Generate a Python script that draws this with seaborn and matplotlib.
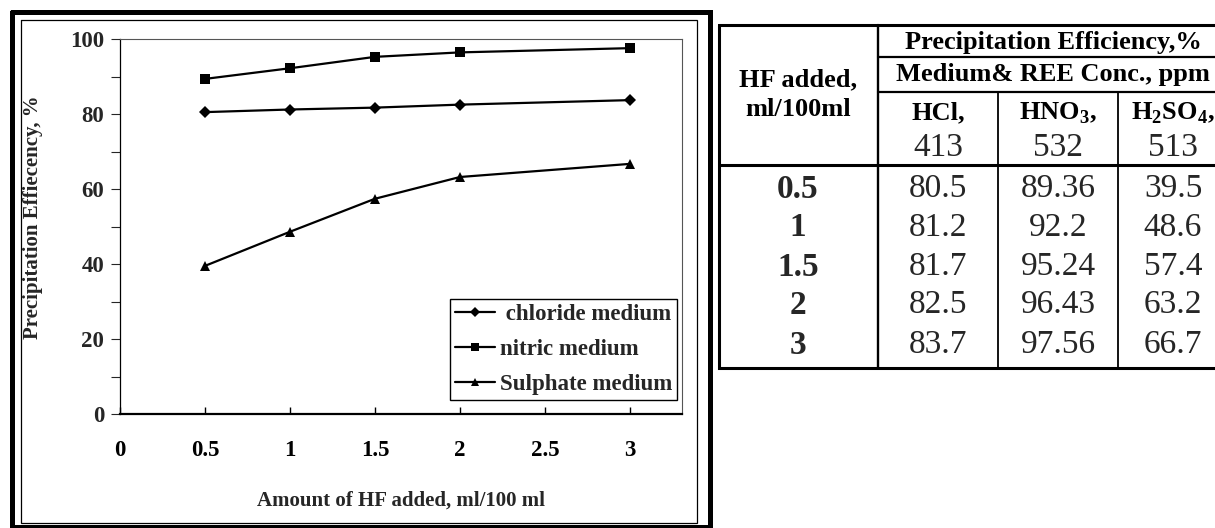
import numpy as np
import pandas as pd
import matplotlib
matplotlib.use("Agg")
import matplotlib.pyplot as plt
import seaborn as sns

# ---------------- data ----------------
hf_added = [0.5, 1, 1.5, 2, 3]
hf_labels = ["0.5", "1", "1.5", "2", "3"]
chloride = [80.5, 81.2, 81.7, 82.5, 83.7]
nitric = [89.36, 92.2, 95.24, 96.43, 97.56]
sulphate = [39.5, 48.6, 57.4, 63.2, 66.7]
series_names = ["chloride medium", "nitric medium", "Sulphate medium"]
legend_labels = [" chloride medium", "nitric medium", "Sulphate medium"]
hcl_txt = ["80.5", "81.2", "81.7", "82.5", "83.7"]
hno3_txt = ["89.36", "92.2", "95.24", "96.43", "97.56"]
h2so4_txt = ["39.5", "48.6", "57.4", "63.2", "66.7"]
col_heads = ["HCl,", r"HNO$_\mathbf{3}$,", r"H$_\mathbf{2}$SO$_\mathbf{4}$,"]
col_conc = ["413", "532", "513"]
x_ticks = [0, 0.5, 1, 1.5, 2, 2.5, 3]
x_tick_labels = ["0", "0.5", "1", "1.5", "2", "2.5", "3"]
y_ticks = [0, 20, 40, 60, 80, 100]

df = pd.DataFrame({
    "x": hf_added * 3,
    "y": chloride + nitric + sulphate,
    "medium": [series_names[0]] * 5 + [series_names[1]] * 5 + [series_names[2]] * 5,
})

sns.set_style("ticks")
plt.rcParams["font.family"] = ["Liberation Serif", "DejaVu Serif"]
plt.rcParams["mathtext.fontset"] = "custom"
plt.rcParams["mathtext.rm"] = "Liberation Serif"
plt.rcParams["mathtext.bf"] = "Liberation Serif:bold"

W, H = 1215, 528
fig = plt.figure(figsize=(W / 100, H / 100), dpi=100)
fig.patch.set_facecolor("white")

# background overlay axes in pixel coordinates (frames + table)
bg = fig.add_axes([0, 0, 1, 1], zorder=0)
bg.set_xlim(0, W)
bg.set_ylim(H, 0)
bg.axis("off")
bg.patch.set_alpha(0)

# chart frame: thick outer, thin inner
bg.plot([12, 709.5, 709.5, 12, 12], [11.5, 11.5, 527, 527, 11.5], color="black", lw=3.6,
        solid_joinstyle="miter", clip_on=False)
bg.plot([21, 697, 697, 21, 21], [19.5, 19.5, 522.5, 522.5, 19.5], color="black", lw=0.9,
        solid_joinstyle="miter", clip_on=False)

# ---------------- chart ----------------
ax = fig.add_axes([120 / W, (H - 414) / H, 562 / W, 375 / H], zorder=1)
markers = {series_names[0]: "D", series_names[1]: "s", series_names[2]: "^"}
sizes_ms = {series_names[0]: 6, series_names[1]: 7, series_names[2]: 7.5}
sns.lineplot(data=df, x="x", y="y", hue="medium", style="medium",
             palette=["black"] * 3, markers=markers, dashes=False,
             linewidth=1.6, markersize=7, markeredgewidth=0, ax=ax, legend=True)
for line, name in zip(ax.lines[:3], series_names):
    line.set_markersize(sizes_ms[name])

ax.set_xlim(0, 3.306)
ax.set_ylim(0, 100)
ax.set_xticks(x_ticks)
ax.set_xticklabels(x_tick_labels, fontsize=16.5, fontweight="bold")
ax.set_yticks(y_ticks)
ax.set_yticklabels([str(v) for v in y_ticks], fontsize=16.5, fontweight="bold")
ax.set_yticks([10, 30, 50, 70, 90], minor=True)
ax.tick_params(axis="x", direction="in", length=5, width=1, pad=19, colors="black")
ax.tick_params(axis="y", which="both", direction="out", length=6.5, width=0.8, pad=5)
ax.set_xlabel("Amount of HF added, ml/100 ml", fontsize=15, fontweight="bold", labelpad=21)
ax.set_ylabel("Precipitation Effiecency, %", fontsize=15, fontweight="bold")
ax.yaxis.set_label_coords(-0.137, 0.525)

for s in ["top", "right"]:
    ax.spines[s].set_color("#555555")
    ax.spines[s].set_linewidth(0.8)
ax.spines["left"].set_linewidth(0.9)
ax.spines["left"].set_color("black")
ax.spines["bottom"].set_linewidth(1.6)
ax.spines["bottom"].set_color("black")

handles, labels = ax.get_legend_handles_labels()
leg = ax.legend(handles[:3], legend_labels, loc="lower right",
                bbox_to_anchor=(677 / W, (H - 400) / H), bbox_transform=fig.transFigure,
                prop={"family": "Liberation Serif", "weight": "bold", "size": 16.5},
                frameon=True, fancybox=False, framealpha=1, edgecolor="black",
                handlelength=1.75, handletextpad=0.2, labelspacing=0.6,
                borderpad=0.22, borderaxespad=0, markerscale=0.75)
leg.get_frame().set_linewidth(1.0)

# ---------------- table ----------------
tl, tr, tt, tb = 719, 1238, 25, 368
c1, c2, c3 = 878, 998, 1118
lw_outer, lw_inner = 2.2, 1.3
bg.plot([tl, tr, tr, tl, tl], [tt, tt, tb, tb, tt], color="black", lw=lw_outer,
        solid_joinstyle="miter")
bg.plot([c1, c1], [tt, tb], color="black", lw=lw_inner + 0.4)
bg.plot([c1, tr], [57, 57], color="black", lw=lw_inner + 0.3)
bg.plot([c1, tr], [92, 92], color="black", lw=lw_inner + 0.3)
bg.plot([tl, tr], [165, 165], color="black", lw=lw_outer)
for cx in (c2, c3):
    bg.plot([cx, cx], [92, tb], color="black", lw=lw_inner)

hb = dict(ha="center", va="center", fontsize=19, fontweight="bold", color="black")
bg.text(798, 80, "HF added,", **hb)
bg.text(798, 109, "ml/100ml", **hb)
bg.text(1053, 42, "Precipitation Efficiency,%", **hb)
bg.text(1053, 75, "Medium& REE Conc., ppm", **hb)
col_cx = [938, 1058, 1173]
for cx, head, conc in zip(col_cx, col_heads, col_conc):
    bg.text(cx, 113, head, **hb)
    bg.text(cx, 148, conc, ha="center", va="center", fontsize=24)

row_y = [189, 228, 267, 305, 345]
for ry, lab, a, b, c in zip(row_y, hf_labels, hcl_txt, hno3_txt, h2so4_txt):
    bg.text(798, ry, lab, ha="center", va="center", fontsize=24, fontweight="bold")
    bg.text(col_cx[0], ry, a, ha="center", va="center", fontsize=24)
    bg.text(col_cx[1], ry, b, ha="center", va="center", fontsize=24)
    bg.text(col_cx[2], ry, c, ha="center", va="center", fontsize=24)

fig.savefig("out.png", dpi=100, facecolor="white")
